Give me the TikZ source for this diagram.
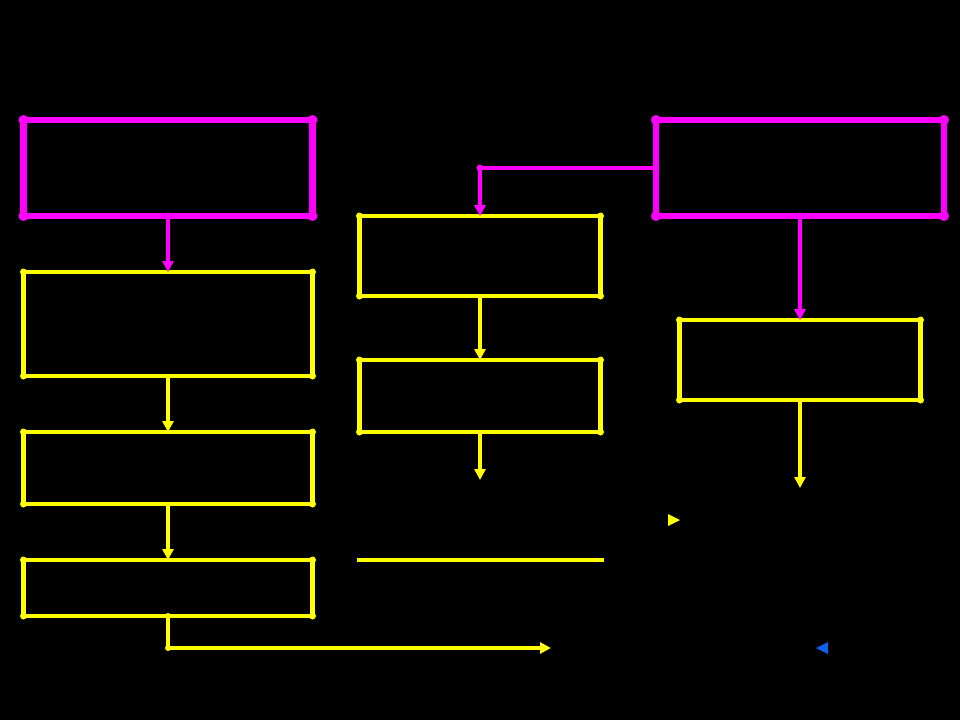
\documentclass[tikz,border=0pt]{standalone}
\usetikzlibrary{arrows.meta, positioning}
\definecolor{pink}{RGB}{255,0,255}
\definecolor{gelb}{RGB}{255,255,0}
\definecolor{blau}{RGB}{16,96,240}
\begin{document}
\begin{tikzpicture}[x=1pt, y=-1pt,% styles used in image code
         > = {Triangle[length=11pt, width=11pt]},
mbox/.style = {draw=pink, line width=6.2pt, inner sep=0pt, outer sep=0pt},
ybox/.style = {draw=gelb, line width=4.2pt, inner sep=0pt, outer sep=0pt},
mline/.style = {draw=pink, line width=4.2pt},
yline/.style = {draw=gelb, line width=4.2pt},
dot/.style = {circle, fill,
              minimum size=#1, inner sep=0pt, outer sep=0pt,
              node contents={}},
dot/.default = 6pt
                        ]
	% background
	\fill[black] (0,0) rectangle (960,720);
	\useasboundingbox (0,0) rectangle (960,720);

	% boxes, left column
	\node[mbox, minimum width=289pt, minimum height=96pt] (top left) at (168,168) {};
	\node[ybox, minimum width=289pt, minimum height=104pt] (left a) at (168,324) {};
	\node[ybox, minimum width=289pt, minimum height=72pt] (left b) at (168,468) {};
	\node[ybox, minimum width=289pt, minimum height=56pt] (left c) at (168,588) {};
	% boxes, middle column
	\node[ybox, minimum width=241pt, minimum height=80pt] (mid a) at (480,256) {};
	\node[ybox, minimum width=241pt, minimum height=72pt] (mid b) at (480,396) {};
	% boxes, right column
	\node[mbox, minimum width=288pt, minimum height=96pt] (top right) at (800,168) {};
	\node[ybox, minimum width=241pt, minimum height=80pt] (right a) at (800,360) {};

	% corner dots
	\foreach \b in {top left, top right}
		\foreach \c in {north west, north east, south west, south east}
			\node[pink] at (\b.\c) [dot=10pt];
	\foreach \b in {left a, left b, left c, mid a, mid b, right a}
		\foreach \c in {north west, north east, south west, south east}
			\node[gelb] at (\b.\c) [dot=7pt];

	\coordinate (mid end) at (480,480);
	\coordinate (right end) at (800,488);
	\coordinate (bottom end) at (551,648);
	\coordinate (bend) at (480,168);
	\coordinate (low bend) at (168,648);

	% connectors
	\draw[mline, ->, pink] (top left.south) -- (left a.north);
	\draw[yline, ->, gelb] (left a.south) -- (left b.north);
	\draw[yline, ->, gelb] (left b.south) -- (left c.north);
	\draw[yline, ->, gelb] (left c.south) |- (bottom end);
	\draw[mline, ->, pink] (top right.west) -| (mid a.north);
	\draw[yline, ->, gelb] (mid a.south) -- (mid b.north);
	\draw[yline, ->, gelb] (mid b.south) -- (mid end);
	\draw[mline, ->, pink] (top right.south) -- (right a.north);
	\draw[yline, ->, gelb] (right a.south) -- (right end);

	\node[pink] at (bend) [dot=7pt];
	\node[pink] at (top left.south) [dot=7pt];
	\node[pink] at (top right.west) [dot=7pt];
	\node[pink] at (top right.south) [dot=7pt];
	\node[gelb] at (low bend) [dot=6pt];
	\node[gelb] at (left c.south) [dot=6pt];

	% loose marks
	\draw[yline] (357,560) -- (604,560);
	\fill[gelb] (668,514) -- (680,520) -- (668,526) -- cycle;
	\fill[blau] (828,642) -- (816,648) -- (828,654) -- cycle;
\end{tikzpicture}
\end{document}
